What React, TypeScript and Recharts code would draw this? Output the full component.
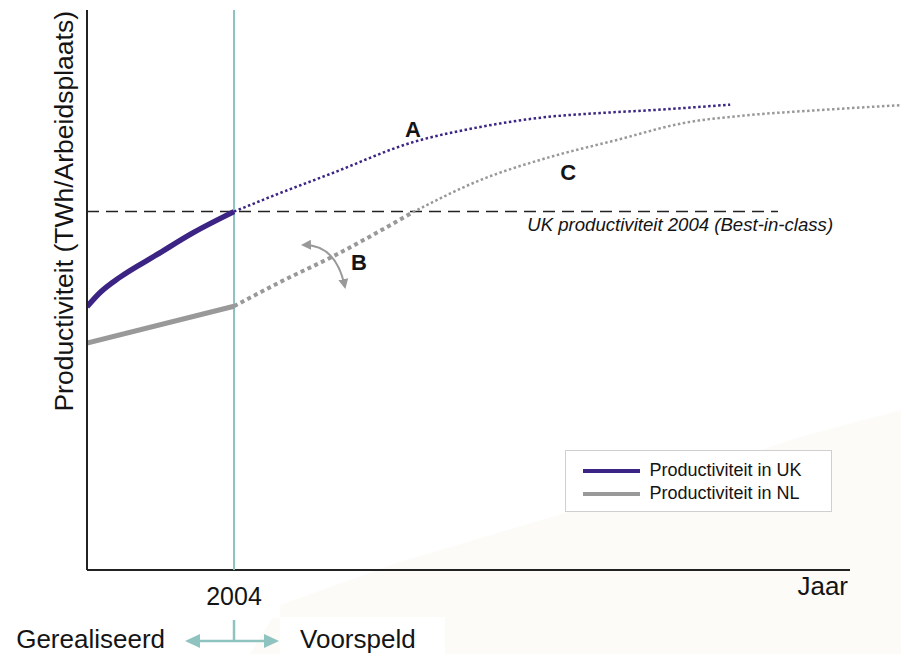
import { LineChart, Line, XAxis, YAxis, ReferenceLine, ReferenceDot, Legend } from 'recharts';

const FONT = '"Liberation Sans", Arial, Helvetica, sans-serif';
const PURPLE = '#3b2483';
const GREY = '#999999';
const TEAL = '#8fc3bf';
const INK = '#141414';

// x = jaar, y = productiviteit (relatieve schaal 0-100)
const X_DOMAIN = [2000, 2022.12];
const X_AXIS_END = 2020.76;
const BASE_YEAR = 2004;
const BEST_IN_CLASS = 64.0;
const BEST_IN_CLASS_END = 2018.8;

const ukActualYears = [2000, 2000.35, 2000.9, 2001.9, 2002.88, 2004];
const ukActualValues = [47.0, 49.5, 52.3, 56.3, 60.2, 64.0];

const ukForecastYears = [2004, 2005.25, 2006.61, 2008.87, 2010.69, 2012.52, 2013.96, 2015.32, 2017.5];
const ukForecastValues = [64.0, 67.3, 70.7, 76.4, 79.1, 80.9, 81.6, 82.1, 83.1];

const nlActualYears = [2000, 2004];
const nlActualValues = [40.5, 47.1];

// scenario B/C: eerst grove stippellijn, daarna fijner
const nlForecastNearYears = [2004, 2005.25, 2006.69, 2008.87];
const nlForecastNearValues = [47.1, 51.4, 56.0, 63.9];

const nlForecastFarYears = [2008.87, 2010.69, 2012.52, 2014.42, 2016.22, 2018.04, 2019.86, 2022.12];
const nlForecastFarValues = [63.9, 69.6, 73.6, 76.8, 79.8, 81.25, 82.1, 83.0];

const scenarioLabels = ['A', 'B', 'C'];
const scenarioYears = [2008.87, 2007.4, 2013.09];
const scenarioValues = [78.6, 55.0, 70.9];

const legendNames = ['Productiviteit in UK', 'Productiviteit in NL'];
const legendColors = [PURPLE, GREY];

const toPoints = (years: number[], values: number[]) =>
  years.map((jaar, i) => ({ jaar, waarde: values[i] }));

function XTick({ x, y, payload }: any) {
  return (
    <g fontFamily={FONT} fill={INK}>
      <rect x={x - 40} y={y + 6} width={86} height={42} fill="#ffffff" />
      <rect x={x + 46} y={y + 47} width={165} height={40} fill="#ffffff" />
      <text x={x} y={y + 35} textAnchor="middle" fontSize={25}>
        {payload.value}
      </text>
      <line x1={x} y1={y + 50} x2={x} y2={y + 71} stroke={TEAL} strokeWidth={2.5} />
      <line x1={x - 36} y1={y + 71} x2={x + 32} y2={y + 71} stroke={TEAL} strokeWidth={2.5} />
      <polygon points={`${x - 49},${y + 71} ${x - 34},${y + 64} ${x - 34},${y + 78}`} fill={TEAL} />
      <polygon points={`${x + 45},${y + 71} ${x + 30},${y + 64} ${x + 30},${y + 78}`} fill={TEAL} />
      <text x={x - 69} y={y + 78} textAnchor="end" fontSize={26}>
        Gerealiseerd
      </text>
      <text x={x + 66} y={y + 78} textAnchor="start" fontSize={26}>
        Voorspeld
      </text>
    </g>
  );
}

function YLabel({ viewBox }: any) {
  const x = viewBox.x + viewBox.width - 14;
  const y = viewBox.y + 1;
  return (
    <text
      x={x}
      y={y}
      transform={`rotate(-90, ${x}, ${y})`}
      textAnchor="end"
      fontFamily={FONT}
      fontSize={26.5}
      fill={INK}
    >
      Productiviteit (TWh/Arbeidsplaats)
    </text>
  );
}

function LegendBox() {
  return (
    <div
      style={{
        boxSizing: 'border-box',
        width: 267,
        height: 62,
        border: '1.5px solid #cfcfcf',
        background: '#ffffff',
        padding: '8px 0 0 16.5px',
        fontFamily: FONT,
        fontSize: 18,
        color: INK,
      }}
    >
      {legendNames.map((name, i) => (
        <div key={name} style={{ display: 'flex', alignItems: 'center', height: 23 }}>
          <span style={{ width: 57, height: 4, background: legendColors[i], marginRight: 10 }} />
          <span>{name}</span>
        </div>
      ))}
    </div>
  );
}

function BArrow({ cx, cy }: any) {
  return (
    <g>
      <defs>
        <marker
          id="b-arrow"
          viewBox="0 0 10 10"
          refX="8"
          refY="5"
          markerWidth="5"
          markerHeight="5"
          orient="auto-start-reverse"
        >
          <path d="M0,0 L10,5 L0,10 z" fill={GREY} />
        </marker>
      </defs>
      <path
        d={`M${cx - 27},${cy - 10} Q${cx + 6},${cy - 11} ${cx + 15},${cy + 32}`}
        fill="none"
        stroke={GREY}
        strokeWidth={2}
        markerStart="url(#b-arrow)"
        markerEnd="url(#b-arrow)"
      />
    </g>
  );
}

export default function App() {
  return (
    <div style={{ position: 'absolute', left: 0, top: 0, width: 901, height: 654, background: '#ffffff' }}>
      {/* lichte achtergrondvlek rechtsonder */}
      <div
        style={{
          position: 'absolute',
          left: 0,
          top: 0,
          width: 901,
          height: 654,
          background: '#fcfbf8',
          clipPath:
            'polygon(250px 654px, 280px 605px, 400px 562px, 565px 513px, 700px 470px, 800px 437px, 901px 410px, 901px 654px)',
        }}
      />
      <LineChart width={901} height={654} margin={{ top: 10, right: 1, left: 0, bottom: 0 }}>
        <XAxis
          dataKey="jaar"
          type="number"
          domain={X_DOMAIN}
          ticks={[BASE_YEAR]}
          interval={0}
          height={84}
          axisLine={false}
          tickLine={false}
          tickSize={0}
          tickMargin={0}
          tick={<XTick />}
          allowDataOverflow
        />
        <YAxis
          type="number"
          domain={[0, 100]}
          width={87}
          tick={false}
          tickLine={false}
          axisLine={{ stroke: '#222222', strokeWidth: 2 }}
          label={{ content: <YLabel /> }}
        />
        <ReferenceLine
          segment={[
            { x: X_DOMAIN[0], y: 0 },
            { x: X_AXIS_END, y: 0 },
          ]}
          stroke="#222222"
          strokeWidth={2}
        />
        <ReferenceDot
          x={X_AXIS_END}
          y={0}
          r={0}
          shape={(p: any) => (
            <text x={p.cx - 2} y={p.cy + 25} textAnchor="end" fontFamily={FONT} fontSize={26} fill={INK}>
              Jaar
            </text>
          )}
        />
        <ReferenceLine x={BASE_YEAR} stroke={TEAL} strokeWidth={2} />
        <ReferenceLine
          segment={[
            { x: X_DOMAIN[0], y: BEST_IN_CLASS },
            { x: BEST_IN_CLASS_END, y: BEST_IN_CLASS },
          ]}
          stroke="#222222"
          strokeWidth={1.5}
          strokeDasharray="12 7"
        />
        <ReferenceDot
          x={2020.3}
          y={60.5}
          r={0}
          shape={(p: any) => (
            <text x={p.cx} y={p.cy} textAnchor="end" fontFamily={FONT} fontSize={18.6} fontStyle="italic" fill={INK}>
              UK productiviteit 2004 (Best-in-class)
            </text>
          )}
        />
        <Line
          data={toPoints(nlActualYears, nlActualValues)}
          dataKey="waarde"
          type="monotone"
          stroke={GREY}
          strokeWidth={5}
          dot={false}
          isAnimationActive={false}
        />
        <Line
          data={toPoints(nlForecastNearYears, nlForecastNearValues)}
          dataKey="waarde"
          type="monotone"
          stroke={GREY}
          strokeWidth={4}
          strokeDasharray="4 3.5"
          dot={false}
          isAnimationActive={false}
        />
        <Line
          data={toPoints(nlForecastFarYears, nlForecastFarValues)}
          dataKey="waarde"
          type="monotone"
          stroke={GREY}
          strokeWidth={2.5}
          strokeDasharray="2.5 2.5"
          dot={false}
          isAnimationActive={false}
        />
        <Line
          data={toPoints(ukForecastYears, ukForecastValues)}
          dataKey="waarde"
          type="monotone"
          stroke={PURPLE}
          strokeWidth={2.5}
          strokeDasharray="2.5 2.5"
          dot={false}
          isAnimationActive={false}
        />
        <Line
          data={toPoints(ukActualYears, ukActualValues)}
          dataKey="waarde"
          type="monotone"
          stroke={PURPLE}
          strokeWidth={5.5}
          dot={false}
          isAnimationActive={false}
        />
        <ReferenceDot x={2006.61} y={56.25} r={0} shape={<BArrow />} />
        {scenarioLabels.map((label, i) => (
          <ReferenceDot
            key={label}
            x={scenarioYears[i]}
            y={scenarioValues[i]}
            r={0}
            shape={(p: any) => (
              <text
                x={p.cx}
                y={p.cy}
                textAnchor="middle"
                dominantBaseline="central"
                fontFamily={FONT}
                fontSize={22}
                fontWeight="bold"
                fill={INK}
              >
                {label}
              </text>
            )}
          />
        ))}
        <Legend
          layout="horizontal"
          verticalAlign="middle"
          align="center"
          wrapperStyle={{ left: 565, top: 450, width: 267, height: 62 }}
          content={<LegendBox />}
        />
      </LineChart>
    </div>
  );
}
